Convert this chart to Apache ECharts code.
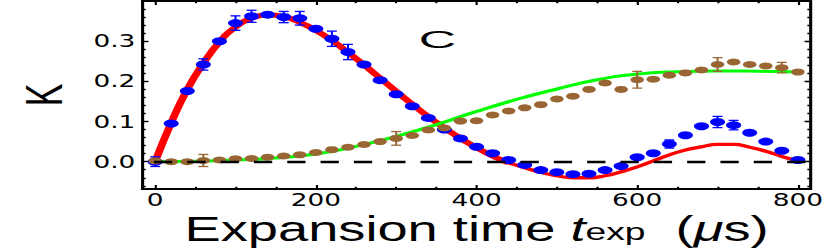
<!DOCTYPE html>
<html>
<head>
<meta charset="utf-8">
<script src="https://cdn.jsdelivr.net/npm/echarts@6/dist/echarts.min.js"></script>
<style>
html,body{margin:0;padding:0;background:#fff;}
#wrap{width:830px;height:249px;overflow:hidden;position:relative;}
#chart{height:249px;transform-origin:0 0;}
</style>
</head>
<body>
<div id="wrap"><div id="chart"></div></div>
<script>
// ---- data ----
const tExp = [0,20,40,60,80,100,120,140,160,180,200,220,240,260,280,300,320,340,360,380,400,
              420,440,460,480,500,520,540,560,580,600,620,640,660,680,700,720,740,760,780,800];
const kappaBlue = [0.000,0.095,0.176,0.242,0.300,0.345,0.362,0.366,0.360,0.357,0.331,
                   0.306,0.273,0.242,0.203,0.168,0.138,0.109,0.080,0.058,0.037,
                   0.021,0.004,-0.008,-0.021,-0.026,-0.031,-0.030,-0.021,-0.011,0.011,
                   0.021,0.044,0.066,0.088,0.099,0.091,0.072,0.050,0.027,0.004];
const errBlue = [0.012,0,0,0.014,0,0.018,0.015,0,0.014,0.017,0,
                 0.019,0.019,0,0,0,0,0,0,0,0,
                 0,0,0,0,0,0,0,0,0,0,
                 0,0.010,0,0,0.014,0.012,0,0,0,0];
const kappaBrown = [0.002,0.000,0.000,0.003,0.004,0.007,0.008,0.011,0.014,0.017,0.023,
                    0.030,0.036,0.043,0.050,0.058,0.065,0.079,0.084,0.101,0.102,
                    0.116,0.126,0.134,0.142,0.156,0.163,0.180,0.196,0.180,0.204,
                    0.205,0.215,0.221,0.228,0.242,0.248,0.242,0.238,0.234,0.223];
const errBrown = [0,0,0,0.015,0,0,0,0,0,0,0,
                  0,0,0,0,0.017,0,0,0,0,0,
                  0,0,0,0,0,0,0,0,0,0.021,
                  0,0,0,0,0.017,0,0,0,0.013,0];
// red fit curve (thick over the fitted range up to 440, thin beyond)
const tRed = tExp;
const redFit = [0.000,0.097,0.180,0.245,0.298,0.335,0.357,0.365,0.361,0.347,0.327,
                0.302,0.272,0.241,0.208,0.175,0.143,0.112,0.084,0.058,0.035,
                0.014,-0.003,-0.015,-0.027,-0.035,-0.040,-0.040,-0.035,-0.025,-0.013,
                0.002,0.017,0.029,0.037,0.043,0.043,0.036,0.026,0.013,0.002];
const redSplitT = 440;
// green curve
const tGreen = [0,50,100,150,200,250,300,350,400,450,500,550,600,650,700,750,800];
const greenFit = [0.000,0.001,0.004,0.009,0.019,0.038,0.063,0.092,0.125,0.155,0.181,
                  0.204,0.218,0.224,0.226,0.225,0.223];
// axes
const xMajor = [0,200,400,600,800];
const xMinor = [50,100,150,250,300,350,450,500,550,650,700,750];
const yMajor = [0,0.1,0.2,0.3];
const yMinor = [-0.06,-0.04,-0.02,0.02,0.04,0.06,0.08,0.12,0.14,0.16,0.18,0.22,0.24,0.26,0.28,0.32,0.34,0.36,0.38];
const xRange = [-16, 816];
const yRange = [-0.068, 0.400];
const yTitle = 'K';
const panelLabel = 'C';

// ---- layout: the reference is horizontally stretched; draw narrow, stretch with CSS ----
const S = 1.55;
const W = 830 / S;
const el = document.getElementById('chart');
el.style.width = W + 'px';
el.style.transform = 'scaleX(' + S + ')';

const FONT = 'Liberation Sans';
const TICKFONT = 'DejaVu Sans';
const BLUE = '#0000ff', BROWN = '#996633', RED = '#ff0000', GREEN = '#00ff00';

const pairs = (xs, ys) => xs.map((x, i) => [x, ys[i]]);
const redAll = pairs(tRed, redFit);
const redThick = redAll.filter(p => p[0] <= redSplitT);
const redThin = redAll.filter(p => p[0] >= redSplitT);
const errRows = (ys, es) => tExp.map((t, i) => [t, ys[i], es[i]]).filter(r => r[2] > 0);

function errRender(color) {
  return function (params, api) {
    const x = api.value(0), y = api.value(1), e = api.value(2);
    const hi = api.coord([x, y + e]);
    const lo = api.coord([x, y - e]);
    const cw = 3.2;
    const st = { stroke: color, lineWidth: 1.3 };
    return {
      type: 'group',
      children: [
        { type: 'line', shape: { x1: hi[0], y1: hi[1], x2: lo[0], y2: lo[1] }, style: st },
        { type: 'line', shape: { x1: hi[0] - cw, y1: hi[1], x2: hi[0] + cw, y2: hi[1] }, style: st },
        { type: 'line', shape: { x1: lo[0] - cw, y1: lo[1], x2: lo[0] + cw, y2: lo[1] }, style: st }
      ]
    };
  };
}

const gridLeft = 142.3 / S, gridRight = (830 - 811.5) / S;
const tickStyle = { color: '#000', width: 1.4 };
function xAx(pos, vals, len, line, labels, extra) {
  return Object.assign({
    type: 'value', position: pos, min: xRange[0], max: xRange[1],
    axisLine: { show: line, onZero: false, lineStyle: { color: '#000', width: 2 } },
    axisTick: { show: true, inside: true, length: len, customValues: vals, lineStyle: tickStyle },
    axisLabel: labels ? { show: true, customValues: xMajor, color: '#000', fontFamily: TICKFONT,
                          fontSize: 17, lineHeight: 14, margin: 4 } : { show: false },
    splitLine: { show: false }
  }, extra || {});
}
function yAx(pos, vals, len, line, labels, extra) {
  return Object.assign({
    type: 'value', position: pos, min: yRange[0], max: yRange[1],
    axisLine: { show: line, onZero: false, lineStyle: { color: '#000', width: 2 } },
    axisTick: { show: true, inside: true, length: len, customValues: vals, lineStyle: tickStyle },
    axisLabel: labels ? { show: true, customValues: yMajor, color: '#000', fontFamily: TICKFONT,
                          fontSize: 17, margin: 4.5, formatter: v => v.toFixed(1) } : { show: false },
    splitLine: { show: false }
  }, extra || {});
}

const chart = echarts.init(el, null, { renderer: 'svg' });
chart.setOption({
  animation: false,
  backgroundColor: '#fff',
  grid: { left: gridLeft, right: gridRight, top: 1, bottom: 60, containLabel: false,
          outerBoundsMode: 'none' },
  xAxis: [
    xAx('bottom', xMajor, 4, true, true, {
      name: '{n|Expansion time }{i|t}{sub|exp}{n|  (}{i|μ}{n|s)}',
      nameLocation: 'middle', nameGap: 25, nameMoveOverlap: false,
      nameTextStyle: {
        rich: {
          n: { fontFamily: FONT, fontSize: 35, color: '#000', lineHeight: 30 },
          i: { fontFamily: FONT, fontSize: 35, color: '#000', lineHeight: 30, fontStyle: 'italic' },
          sub: { fontFamily: FONT, fontSize: 24, color: '#000', lineHeight: 12, verticalAlign: 'bottom' }
        }
      }
    }),
    xAx('bottom', xMinor, 2.2, false, false),
    xAx('top', xMajor, 4, true, false),
    xAx('top', xMinor, 2.2, false, false)
  ],
  yAxis: [
    yAx('left', yMajor, 4, true, true, {
      name: yTitle, nameLocation: 'middle', nameRotate: 90, nameGap: 47, nameMoveOverlap: false,
      nameTextStyle: { fontFamily: FONT, fontSize: 34, color: '#000' }
    }),
    yAx('left', yMinor, 2.2, false, false),
    yAx('right', yMajor, 4, true, false),
    yAx('right', yMinor, 2.2, false, false)
  ],
  graphic: [{
    type: 'text', x: 437.5 / S, y: 40, z: 100, scaleX: 1.45,
    style: { text: panelLabel, fontFamily: FONT, fontSize: 23, fill: '#000',
             align: 'center', verticalAlign: 'middle' }
  }],
  series: [
    { type: 'line', data: redThick, smooth: true, showSymbol: false, z: 2,
      lineStyle: { color: RED, width: 5 } },
    { type: 'line', data: redThin, smooth: true, showSymbol: false, z: 2,
      lineStyle: { color: RED, width: 3.3 } },
    { type: 'line', data: pairs(tGreen, greenFit), smooth: true, showSymbol: false, z: 2,
      lineStyle: { color: GREEN, width: 3 } },
    { type: 'custom', data: errRows(kappaBlue, errBlue), renderItem: errRender(BLUE), z: 3 },
    { type: 'scatter', data: pairs(tExp, kappaBlue), symbol: 'circle', symbolSize: [9.7, 8], z: 3,
      itemStyle: { color: BLUE, opacity: 1 } },
    { type: 'custom', data: errRows(kappaBrown, errBrown), renderItem: errRender(BROWN), z: 4 },
    { type: 'scatter', data: pairs(tExp, kappaBrown), symbol: 'circle', symbolSize: [8.7, 7], z: 4,
      itemStyle: { color: BROWN, opacity: 1 } },
    { type: 'line', data: [], z: 6, silent: true,
      markLine: { silent: true, symbol: 'none', label: { show: false },
        lineStyle: { color: '#000', width: 2.4, type: [11.8, 9.7], dashOffset: 14.4 },
        data: [{ yAxis: 0 }] } }
  ]
});
</script>
</body>
</html>
